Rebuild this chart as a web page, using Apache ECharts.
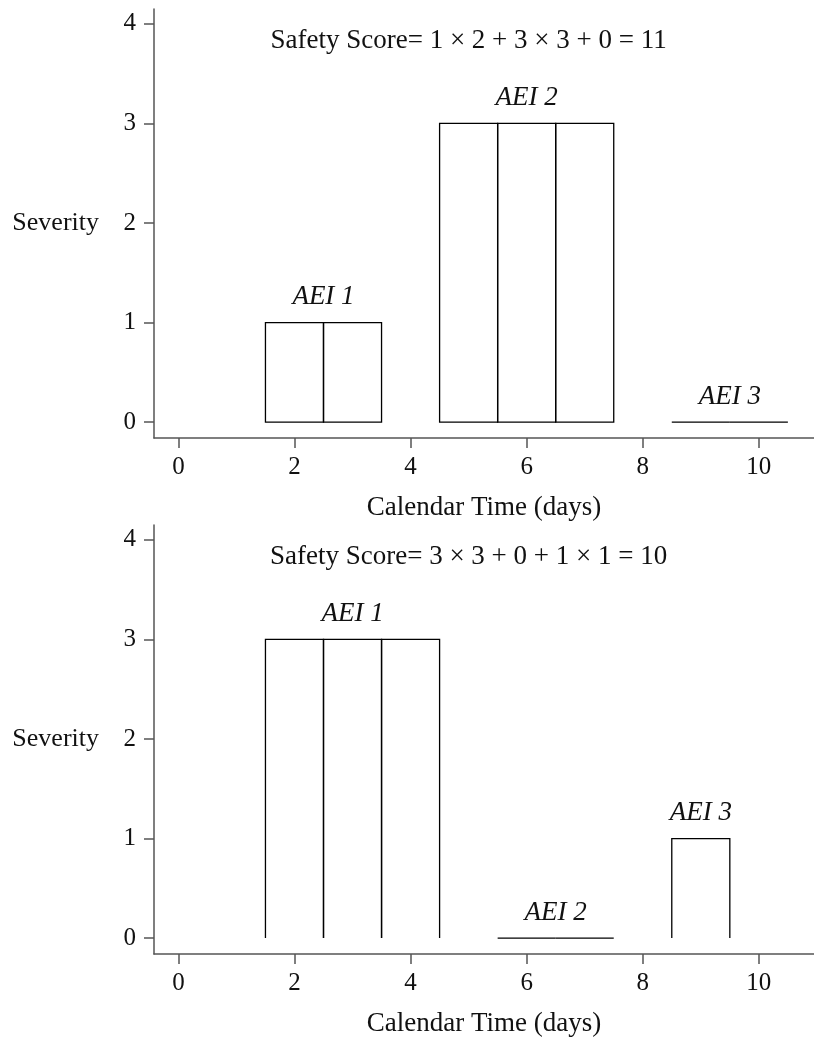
<!DOCTYPE html>
<html>
<head>
<meta charset="utf-8">
<script src="https://cdn.jsdelivr.net/npm/echarts@6/dist/echarts.min.js"></script>
<style>html,body{margin:0;padding:0;background:#fff;}#c{width:814px;height:1040px;}</style>
</head>
<body>
<div id="c"></div>
<script>
// ---- data ----
const xTicks = [0, 2, 4, 6, 8, 10];
const yTicks = [0, 1, 2, 3, 4];

// top panel: day, severity
const topDays = [2, 3, 5, 6, 7, 9, 10];
const topSeverity = [1, 1, 3, 3, 3, 0, 0];
const topLabelX = [2.5, 6, 9.5];
const topLabelY = [1, 3, 0];
const topLabelText = ['AEI 1', 'AEI 2', 'AEI 3'];
const topTitle = 'Safety Score= 1 × 2 + 3 × 3 + 0 = 11';

// bottom panel
const botDays = [2, 3, 4, 6, 7, 9];
const botSeverity = [3, 3, 3, 0, 0, 1];
const botLabelX = [3, 6.5, 9];
const botLabelY = [3, 0, 1];
const botLabelText = ['AEI 1', 'AEI 2', 'AEI 3'];
const botTitle = 'Safety Score= 3 × 3 + 0 + 1 × 1 = 10';

const titleX = 5, titleY = 3.83;

// ---- chart ----
const FONT = '"Liberation Serif", "DejaVu Serif", serif';
const axisColor = '#555';
const textColor = '#111';

function xAxisCfg(gi) {
  return {
    type: 'value', gridIndex: gi, min: -0.42, max: 10.95,
    name: 'Calendar Time (days)', nameLocation: 'middle', nameGap: 56,
    nameTextStyle: { fontFamily: FONT, fontSize: 27, color: textColor },
    axisLine: { show: true, onZero: false, lineStyle: { color: axisColor, width: 1.5 } },
    axisTick: { show: true, length: 10, customValues: xTicks, lineStyle: { color: axisColor, width: 1.5 } },
    axisLabel: { customValues: xTicks, margin: 17, fontFamily: FONT, fontSize: 25, color: textColor },
    splitLine: { show: false }
  };
}
function yAxisCfg(gi) {
  return {
    type: 'value', gridIndex: gi, min: -0.16, max: 4.15,
    name: 'Severity', nameLocation: 'middle', nameRotate: 0, nameGap: 55,
    nameTextStyle: { fontFamily: FONT, fontSize: 26, color: textColor, align: 'right' },
    axisLine: { show: true, onZero: false, lineStyle: { color: axisColor, width: 1.5 } },
    axisTick: { show: true, length: 10, customValues: yTicks, lineStyle: { color: axisColor, width: 1.5 } },
    axisLabel: { customValues: yTicks, margin: 18, fontFamily: FONT, fontSize: 25, color: textColor },
    splitLine: { show: false }
  };
}

function boxSeries(gi, days, sev, closed) {
  return {
    type: 'custom', xAxisIndex: gi, yAxisIndex: gi,
    data: days.map((d, i) => [d, sev[i]]),
    renderItem: function (params, api) {
      const d = api.value(0), s = api.value(1);
      const p1 = api.coord([d - 0.5, 0]);
      const p2 = api.coord([d - 0.5, s]);
      const p3 = api.coord([d + 0.5, s]);
      const p4 = api.coord([d + 0.5, 0]);
      return {
        type: closed ? 'polygon' : 'polyline',
        shape: { points: [p1, p2, p3, p4] },
        style: { stroke: '#000', fill: closed ? 'none' : null, lineWidth: 1.3 }
      };
    },
    silent: true, animation: false
  };
}

function labelSeries(gi, xs, ys, texts) {
  return {
    type: 'scatter', xAxisIndex: gi, yAxisIndex: gi, symbolSize: 0,
    itemStyle: { opacity: 1 },
    data: xs.map((x, i) => ({ value: [x, ys[i]], name: texts[i] })),
    label: {
      show: true, position: 'top', distance: 12, formatter: p => p.name,
      fontFamily: FONT, fontSize: 27, fontStyle: 'italic', color: textColor
    },
    silent: true, animation: false
  };
}

function titleSeries(gi, text) {
  return {
    type: 'scatter', xAxisIndex: gi, yAxisIndex: gi, symbolSize: 0,
    itemStyle: { opacity: 1 },
    data: [{ value: [titleX, titleY], name: text }],
    label: {
      show: true, position: 'inside', formatter: p => p.name,
      fontFamily: FONT, fontSize: 27, color: textColor
    },
    silent: true, animation: false
  };
}

const chart = echarts.init(document.getElementById('c'), null, { renderer: 'canvas' });
chart.setOption({
  backgroundColor: '#fff',
  animation: false,
  grid: [
    { left: 154, top: 9, width: 660, height: 429 },
    { left: 154, top: 525, width: 660, height: 429 }
  ],
  xAxis: [xAxisCfg(0), xAxisCfg(1)],
  yAxis: [yAxisCfg(0), yAxisCfg(1)],
  series: [
    boxSeries(0, topDays, topSeverity, true),
    labelSeries(0, topLabelX, topLabelY, topLabelText),
    titleSeries(0, topTitle),
    boxSeries(1, botDays, botSeverity, false),
    labelSeries(1, botLabelX, botLabelY, botLabelText),
    titleSeries(1, botTitle)
  ]
});
</script>
</body>
</html>
